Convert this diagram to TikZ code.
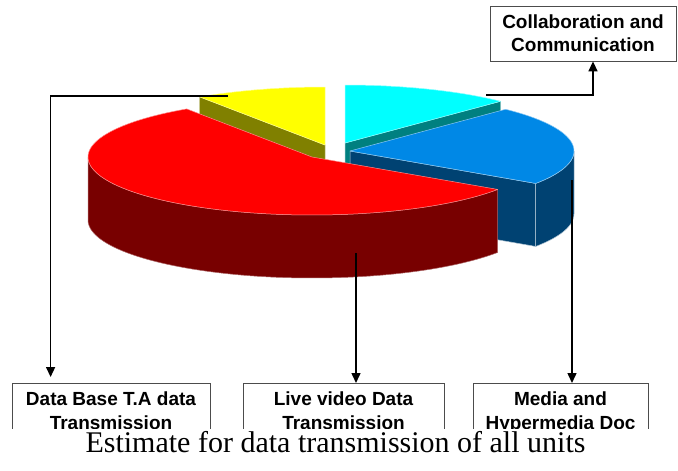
\documentclass[tikz,border=0pt]{standalone}
\usepackage{fontspec}
\setmainfont{Liberation Serif}
\newfontfamily\labelfont{Liberation Sans}
\usetikzlibrary{arrows.meta}

\definecolor{pieYellow}{HTML}{FFFF00}
\definecolor{pieOlive}{HTML}{808000}
\definecolor{pieCyan}{HTML}{00FFFF}
\definecolor{pieTeal}{HTML}{008080}
\definecolor{pieBlue}{HTML}{0088E6}
\definecolor{pieNavy}{HTML}{004272}
\definecolor{pieRed}{HTML}{FF0000}
\definecolor{pieMaroon}{HTML}{780000}

% ellipse radii and thickness of the 3D pie
\newcommand\piea{224}
\newcommand\pieb{58}
\newcommand\pieh{63}

\begin{document}
\begin{tikzpicture}[x=1pt,y=-1pt,
  face/.style={line width=0.5pt, line join=round},
  leader/.style={line width=1.5pt, -{Triangle[width=9pt,length=10pt]}},
  labelbox/.style={draw=black!70, line width=0.8pt, fill=white, inner sep=0pt},
  boxfont/.style={font=\labelfont\bfseries\fontsize{19}{23}\selectfont},
  boxtext/.style={boxfont, inner sep=0pt, anchor=base},
]
\useasboundingbox (0,0) rectangle (678,471);
\fill[white] (0,0) rectangle (678,471);

% --- yellow slice (exploded backwards) ---
\filldraw[face, fill=pieOlive, draw=white!55!pieOlive]
  (325,145) -- ({325+\piea*cos(124)},{145-\pieb*sin(124)}) -- ++(0,\pieh)
  -- (325,{145+\pieh}) -- cycle;
\filldraw[face, fill=pieYellow, draw=white!55!pieYellow]
  (325,145) -- plot[domain=90:124, samples=40] ({325+\piea*cos(\x)},{145-\pieb*sin(\x)}) -- cycle;

% --- cyan slice ---
\filldraw[face, fill=pieTeal, draw=white!55!pieTeal]
  (345,143) -- ({345+\piea*cos(46)},{143-\pieb*sin(46)}) -- ++(0,\pieh)
  -- (345,{143+\pieh}) -- cycle;
\filldraw[face, fill=pieCyan, draw=white!55!pieCyan]
  (345,143) -- plot[domain=46:90, samples=40] ({345+\piea*cos(\x)},{143-\pieb*sin(\x)}) -- cycle;

% --- blue slice ---
\filldraw[face, fill=pieNavy, draw=white!70!pieNavy]
  (350,151) -- ({350+\piea*cos(-34)},{151-\pieb*sin(-34)}) -- ++(0,\pieh)
  -- (350,{151+\pieh}) -- cycle;
\filldraw[face, fill=pieNavy, draw=white!70!pieNavy]
  plot[domain=-34:0, samples=30] ({350+\piea*cos(\x)},{151-\pieb*sin(\x)})
  -- plot[domain=0:-34, samples=30] ({350+\piea*cos(\x)},{151+\pieh-\pieb*sin(\x)}) -- cycle;
\filldraw[face, fill=pieBlue, draw=white!55!pieBlue]
  (350,151) -- plot[domain=-34:46, samples=60] ({350+\piea*cos(\x)},{151-\pieb*sin(\x)}) -- cycle;

% --- red slice ---
\filldraw[face, fill=pieMaroon, draw=white!40!pieMaroon]
  plot[domain=180:326, samples=80] ({312+\piea*cos(\x)},{157-\pieb*sin(\x)})
  -- plot[domain=326:180, samples=80] ({312+\piea*cos(\x)},{157+\pieh-\pieb*sin(\x)}) -- cycle;
\filldraw[face, fill=pieRed, draw=white!55!pieRed]
  (312,157) -- plot[domain=124:326, samples=100] ({312+\piea*cos(\x)},{157-\pieb*sin(\x)}) -- cycle;

% leader anchors on the slices
\coordinate (ylwpt) at (228,96);
\coordinate (cynpt) at (486,95);
\coordinate (redpt) at (356,253);
\coordinate (blupt) at (572,180);

% --- label boxes ---
\node[labelbox, boxfont, align=center, minimum width=186, minimum height=55]
  (collab) at (583,33.5) {Collaboration and\\Communication};

\begin{scope}
  \clip (0,0) rectangle (678,428);
  \node[labelbox, minimum width=198, minimum height=80, anchor=north] (db) at (111,383) {};
  \node[boxtext] (dbA) at (111,405.7) {Data Base T.A data};
  \node[boxtext] (dbB) at (111,429) {Transmission};

  \node[labelbox, minimum width=201, minimum height=80, anchor=north] (vid) at (343.5,383) {};
  \node[boxtext] (vidA) at (343.5,405.7) {Live video Data};
  \node[boxtext] (vidB) at (343.5,429) {Transmission};

  \node[labelbox, minimum width=175, minimum height=80, anchor=north] (med) at (560.5,383) {};
  \node[boxtext] (medA) at (560.5,405.7) {Media and};
  \node[boxtext] (medB) at (560.5,429) {Hypermedia Doc};
\end{scope}

% --- leaders ---
\draw[leader, shorten >=6pt] (ylwpt) -| ([xshift=39pt]db.north west);
\draw[leader] (redpt) -- (redpt |- vid.north);
\draw[leader] (blupt) -- (blupt |- med.north);
\draw[leader] (cynpt) -| ([xshift=10pt]collab.south);

% --- caption ---
\node[anchor=base, inner sep=0pt, font=\fontsize{30}{36}\selectfont]
  (caption) at (335.5,452.5) {Estimate for data transmission of all units};
\end{tikzpicture}
\end{document}
